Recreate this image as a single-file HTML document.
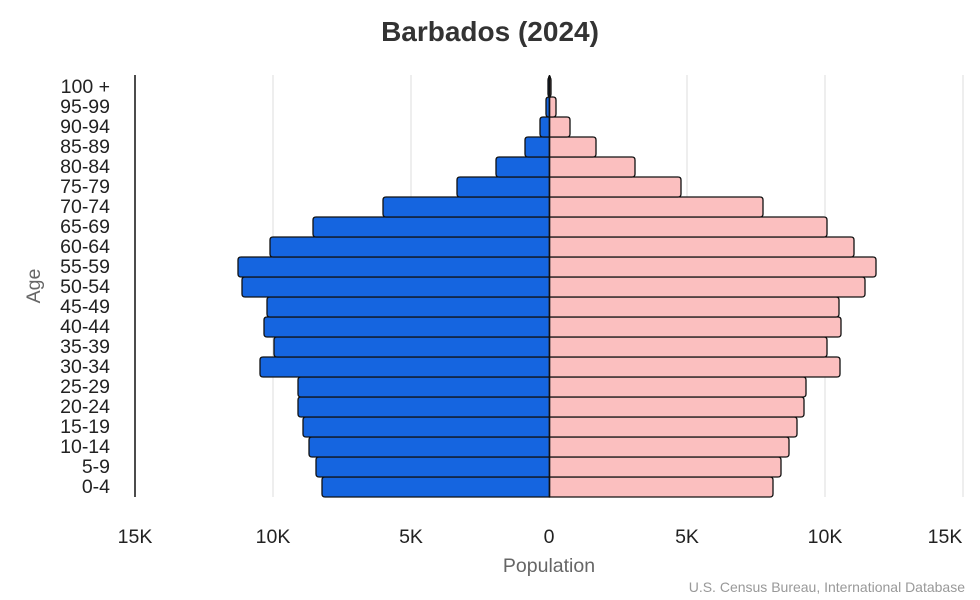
<!DOCTYPE html>
<html><head><meta charset="utf-8"><style>
body{margin:0;background:#fff;}
svg{display:block;font-family:"Liberation Sans",Arial,sans-serif;}
</style></head><body>
<svg width="980" height="600" viewBox="0 0 980 600" xmlns="http://www.w3.org/2000/svg">
<rect width="980" height="600" fill="#fff"/>
<text x="490" y="41" text-anchor="middle" font-size="28" font-weight="bold" fill="#333">Barbados (2024)</text>
<g stroke="#e3e3e3" stroke-width="1.2">
<line x1="273" y1="75" x2="273" y2="497"/><line x1="411" y1="75" x2="411" y2="497"/>
<line x1="687" y1="75" x2="687" y2="497"/><line x1="825" y1="75" x2="825" y2="497"/>
<line x1="963" y1="75" x2="963" y2="497"/>
</g>
<line x1="135" y1="75" x2="135" y2="497" stroke="#111" stroke-width="1.5"/>
<g id="bars" stroke="#111" stroke-width="1.3"></g>
<line x1="549.5" y1="75" x2="549.5" y2="497" stroke="#111" stroke-width="1.5"/>
<g font-size="19.5" fill="#222" text-anchor="end" id="ylab"></g>
<g font-size="19.5" fill="#222" text-anchor="middle">
<text x="135" y="543">15K</text><text x="273" y="543">10K</text><text x="411" y="543">5K</text>
<text x="549" y="543">0</text><text x="687" y="543">5K</text><text x="825" y="543">10K</text><text x="945" y="543">15K</text>
</g>
<text x="549" y="572" text-anchor="middle" font-size="19.5" fill="#666">Population</text>
<text x="40" y="286" text-anchor="middle" font-size="19.5" fill="#666" transform="rotate(-90 40 286)">Age</text>
<text x="965" y="592" text-anchor="end" font-size="14" fill="#999">U.S. Census Bureau, International Database</text>
<script>
var L=[322,316,309,303,298,298,260,274,264,267,242,238,270,313,383,457,496,525,540,546,548];
var R=[773,781,789,797,804,806,840,827,841,839,865,876,854,827,763,681,635,596,570,556,551];
var labs=["0-4","5-9","10-14","15-19","20-24","25-29","30-34","35-39","40-44","45-49","50-54","55-59","60-64","65-69","70-74","75-79","80-84","85-89","90-94","95-99","100 +"];
var g=document.getElementById('bars'),yl=document.getElementById('ylab'),ns="http://www.w3.org/2000/svg";
for(var i=0;i<21;i++){
 var t=477-20*i,b=t+20,c=549.5,r=3;
 var p=document.createElementNS(ns,'path');
 var l=L[i];
 p.setAttribute('d','M'+c+' '+t+' L'+(l+r)+' '+t+' Q'+l+' '+t+' '+l+' '+(t+r)+' L'+l+' '+(b-r)+' Q'+l+' '+b+' '+(l+r)+' '+b+' L'+c+' '+b+' Z');
 p.setAttribute('fill','#1565e0');g.appendChild(p);
 var q=document.createElementNS(ns,'path');var rr=R[i];
 q.setAttribute('d','M'+c+' '+t+' L'+(rr-r)+' '+t+' Q'+rr+' '+t+' '+rr+' '+(t+r)+' L'+rr+' '+(b-r)+' Q'+rr+' '+b+' '+(rr-r)+' '+b+' L'+c+' '+b+' Z');
 q.setAttribute('fill','#fbbfbf');g.appendChild(q);
 var tx=document.createElementNS(ns,'text');tx.setAttribute('x',110);tx.setAttribute('y',t+16);tx.textContent=labs[i];yl.appendChild(tx);
}
</script>
</svg>
</body></html>
